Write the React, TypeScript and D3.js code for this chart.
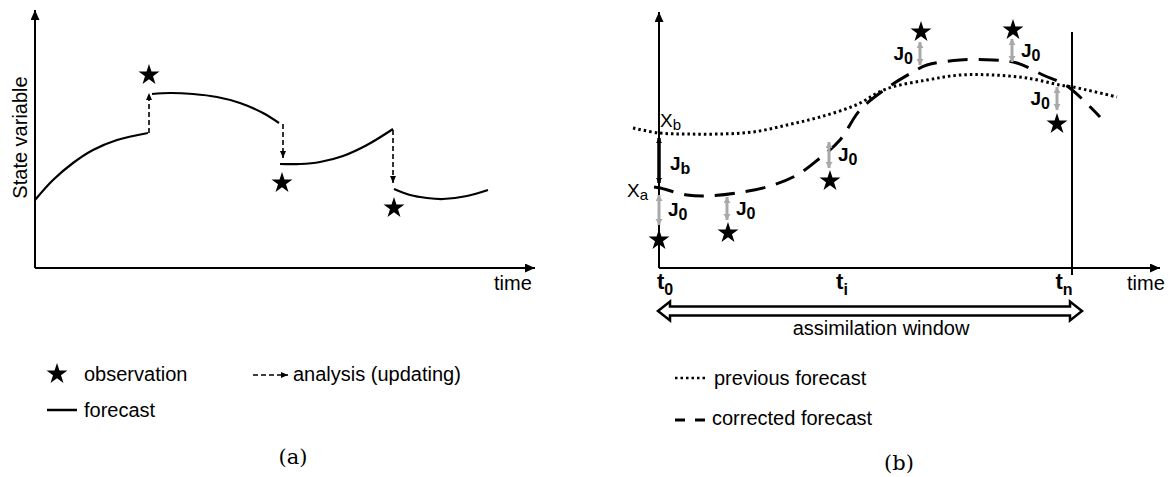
import React from 'react';
import * as d3 from 'd3';

const W = 1173;
const H = 477;

// ---------- Panel (a) data (arbitrary time / state units) ----------
const forecastSegmentsA: [number, number][][] = [
  [[0, 68], [18, 88], [38, 105], [58, 118], [82, 128], [113, 135]],
  [[117, 174], [135, 175], [158, 174], [182, 171], [205, 165], [228, 155], [244, 145]],
  [[245, 104], [265, 104], [285, 106], [308, 112], [332, 123], [358, 139]],
  [[359, 79], [375, 73], [392, 70], [408, 69], [432, 72], [453, 78]],
];
const analysisTimesA = [114, 248, 358];
const analysisFromA = [135, 144, 138];
const analysisToA = [175, 110, 85];
const obsTimesA = [114, 247, 359];
const obsValuesA = [193, 85, 60];

// ---------- Panel (b) data ----------
const previousForecast: [number, number][] = [
  [-26, 140], [0, 135], [28, 134], [61, 134], [94, 136], [128, 143], [161, 151],
  [197, 163], [227, 179], [268, 188], [301, 193], [334, 193], [368, 190],
  [401, 183], [414, 181], [458, 171],
];
const correctedForecast: [number, number][] = [
  [-5, 81], [1, 80], [28, 73], [48, 72], [78, 75], [111, 82], [138, 93],
  [161, 110], [181, 128], [201, 158], [228, 180], [254, 196], [268, 203],
  [301, 208], [334, 208], [358, 205], [384, 193], [408, 182], [441, 151],
];
const obsTimesB = [0, 69, 171, 262, 354, 398];
const obsValuesB = [28, 35, 87, 236, 238, 144];
const j0Times = [0, 68, 170, 261, 353, 398];
const j0From = [73, 71, 126, 226, 229, 181];
const j0To = [43, 48, 100, 203, 206, 158];
const j0LabelSide = ['right', 'right', 'right', 'left', 'right', 'left'];
const jbTime = 0;
const jbFrom = 130;
const jbTo = 85;
const xbValue = 135;
const xaValue = 80;
const tickLabels = ['0', 'i', 'n'];
const tickLabelTimes = [6, 183, 405];
const windowEndTime = 413;
const windowArrowTimes = [-1, 423];

// ---------- scales ----------
const xA = d3.scaleLinear().domain([0, 500]).range([35, 535]);
const yA = d3.scaleLinear().domain([0, 258]).range([268, 10]);
const xB = d3.scaleLinear().domain([0, 501]).range([659, 1160]);
const yB = d3.scaleLinear().domain([0, 256]).range([268, 12]);

const SANS = 'Liberation Sans, Arial, sans-serif';
const SERIF = 'DejaVu Serif, serif';
const GRAY = '#a9a9a9';

const starPath = d3.symbol().type(d3.symbolStar).size(136)();

const lineA = d3
  .line<[number, number]>()
  .x((d) => xA(d[0]))
  .y((d) => yA(d[1]))
  .curve(d3.curveCatmullRom.alpha(0.5));
const lineB = d3
  .line<[number, number]>()
  .x((d) => xB(d[0]))
  .y((d) => yB(d[1]))
  .curve(d3.curveCatmullRom.alpha(0.5));

function Star({ x, y }: { x: number; y: number }) {
  return <path d={starPath as string} transform={`translate(${x},${y})`} fill="#000" />;
}

export default function App() {
  const winL = xB(windowArrowTimes[0]);
  const winR = xB(windowArrowTimes[1]);
  const cy = 311;
  const hl = 12;
  const sh = 4.5;
  const hh = 9.5;
  const windowPath = `M${winL},${cy} L${winL + hl},${cy - hh} L${winL + hl},${cy - sh} L${winR - hl},${cy - sh} L${winR - hl},${cy - hh} L${winR},${cy} L${winR - hl},${cy + hh} L${winR - hl},${cy + sh} L${winL + hl},${cy + sh} L${winL + hl},${cy + hh} Z`;

  return (
    <svg
      width={W}
      height={H}
      style={{ position: 'absolute', left: 0, top: 0, background: '#fff' }}
      fontFamily={SANS}
    >
      <defs>
        <marker id="axisHead" markerUnits="userSpaceOnUse" markerWidth={11} markerHeight={10} refX={10} refY={4.5} orient="auto">
          <path d="M0,0 L10,4.5 L0,9 Z" fill="#000" />
        </marker>
        <marker id="smallHead" markerUnits="userSpaceOnUse" markerWidth={8} markerHeight={7} refX={7} refY={3} orient="auto">
          <path d="M0,0 L7,3 L0,6 Z" fill="#000" />
        </marker>
        <marker id="grayHead" markerUnits="userSpaceOnUse" markerWidth={8} markerHeight={8} refX={6} refY={3.5} orient="auto-start-reverse">
          <path d="M0,0 L6,3.5 L0,7 Z" fill={GRAY} />
        </marker>
        <marker id="blackHead" markerUnits="userSpaceOnUse" markerWidth={8} markerHeight={8} refX={5} refY={3} orient="auto-start-reverse">
          <path d="M0,0 L5,3 L0,6 Z" fill="#000" />
        </marker>
      </defs>

      {/* ================= Panel (a) ================= */}
      <line x1={xA(0)} y1={yA(0)} x2={xA(0)} y2={yA(258)} stroke="#000" strokeWidth={2} markerEnd="url(#axisHead)" />
      <line x1={xA(0)} y1={yA(0)} x2={xA(500)} y2={yA(0)} stroke="#000" strokeWidth={2} markerEnd="url(#axisHead)" />
      <text x={494} y={290} fontSize={20}>time</text>
      <text transform={`translate(27,137.5) rotate(-90)`} textAnchor="middle" fontSize={20}>
        State variable
      </text>

      {forecastSegmentsA.map((seg, i) => (
        <path key={`fa${i}`} d={lineA(seg) as string} fill="none" stroke="#000" strokeWidth={2.2} />
      ))}
      {analysisTimesA.map((t, i) => (
        <line
          key={`an${i}`}
          x1={xA(t)}
          y1={yA(analysisFromA[i])}
          x2={xA(t)}
          y2={yA(analysisToA[i])}
          stroke="#000"
          strokeWidth={1.6}
          strokeDasharray="5,3"
          markerEnd="url(#smallHead)"
        />
      ))}
      {obsTimesA.map((t, i) => (
        <Star key={`sa${i}`} x={xA(t)} y={yA(obsValuesA[i])} />
      ))}

      {/* legend (a) */}
      <Star x={57} y={374} />
      <text x={84} y={381} fontSize={20}>observation</text>
      <line x1={253} y1={375} x2={288} y2={375} stroke="#000" strokeWidth={1.6} strokeDasharray="5,3" markerEnd="url(#smallHead)" />
      <text x={293} y={381} fontSize={20}>analysis (updating)</text>
      <line x1={47} y1={410} x2={77} y2={410} stroke="#000" strokeWidth={2.5} />
      <text x={84} y={417} fontSize={20}>forecast</text>
      <text x={293} y={464} fontSize={21} fontFamily={SERIF} textAnchor="middle">(a)</text>

      {/* ================= Panel (b) ================= */}
      <line x1={xB(0)} y1={yB(0)} x2={xB(0)} y2={yB(256)} stroke="#000" strokeWidth={2} markerEnd="url(#axisHead)" />
      <line x1={xB(0)} y1={yB(0)} x2={xB(501)} y2={yB(0)} stroke="#000" strokeWidth={2} markerEnd="url(#axisHead)" />
      <line x1={xB(windowEndTime)} y1={32} x2={xB(windowEndTime)} y2={yB(-7)} stroke="#000" strokeWidth={2} />
      <text x={1127} y={290} fontSize={20}>time</text>

      {tickLabels.map((s, i) => (
        <text key={`tk${i}`} x={xB(tickLabelTimes[i])} y={289} fontSize={22} fontWeight="bold" textAnchor="middle">
          t<tspan fontSize={16} dy={6}>{s}</tspan>
        </text>
      ))}

      <path d={lineB(previousForecast) as string} fill="none" stroke="#000" strokeWidth={3} strokeDasharray="2.5,3" />
      <path d={lineB(correctedForecast) as string} fill="none" stroke="#000" strokeWidth={3} strokeDasharray="20,11" />

      {/* Jb */}
      <line x1={xB(jbTime)} y1={yB(jbFrom)} x2={xB(jbTime)} y2={yB(jbTo)} stroke="#000" strokeWidth={3.5} markerStart="url(#blackHead)" markerEnd="url(#blackHead)" />
      <text x={xB(jbTime) + 11} y={170} fontSize={19} fontWeight="bold">
        J<tspan fontSize={16} dy={4}>b</tspan>
      </text>
      <text x={xB(0) + 1} y={yB(xbValue) - 6} fontSize={19}>
        X<tspan fontSize={15} dy={3}>b</tspan>
      </text>
      <text x={627} y={yB(xaValue) + 9} fontSize={19}>
        X<tspan fontSize={15} dy={3}>a</tspan>
      </text>

      {/* J0 arrows */}
      {j0Times.map((t, i) => {
        const x = xB(t);
        const y1 = yB(j0From[i]);
        const y2 = yB(j0To[i]);
        const mid = (y1 + y2) / 2;
        const right = j0LabelSide[i] === 'right';
        return (
          <g key={`j0${i}`}>
            <line x1={x} y1={y1} x2={x} y2={y2} stroke={GRAY} strokeWidth={3} markerStart="url(#grayHead)" markerEnd="url(#grayHead)" />
            <text x={right ? x + 9 : x - 7} y={mid + 6} fontSize={19} fontWeight="bold" textAnchor={right ? 'start' : 'end'}>
              J<tspan fontSize={16} dy={4}>0</tspan>
            </text>
          </g>
        );
      })}

      {obsTimesB.map((t, i) => (
        <Star key={`sb${i}`} x={xB(t)} y={yB(obsValuesB[i])} />
      ))}

      {/* assimilation window */}
      <path d={windowPath} fill="#fff" stroke="#000" strokeWidth={2.5} strokeLinejoin="miter" />
      <text x={881} y={335} fontSize={20} textAnchor="middle">assimilation window</text>

      {/* legend (b) */}
      <line x1={675} y1={378} x2={707} y2={378} stroke="#000" strokeWidth={2.5} strokeDasharray="2.5,3" />
      <text x={714} y={385} fontSize={20}>previous forecast</text>
      <line x1={675} y1={420} x2={706} y2={420} stroke="#000" strokeWidth={3} strokeDasharray="10,10" />
      <text x={712} y={425} fontSize={20}>corrected forecast</text>
      <text x={899} y={470} fontSize={21} fontFamily={SERIF} textAnchor="middle">(b)</text>
    </svg>
  );
}
